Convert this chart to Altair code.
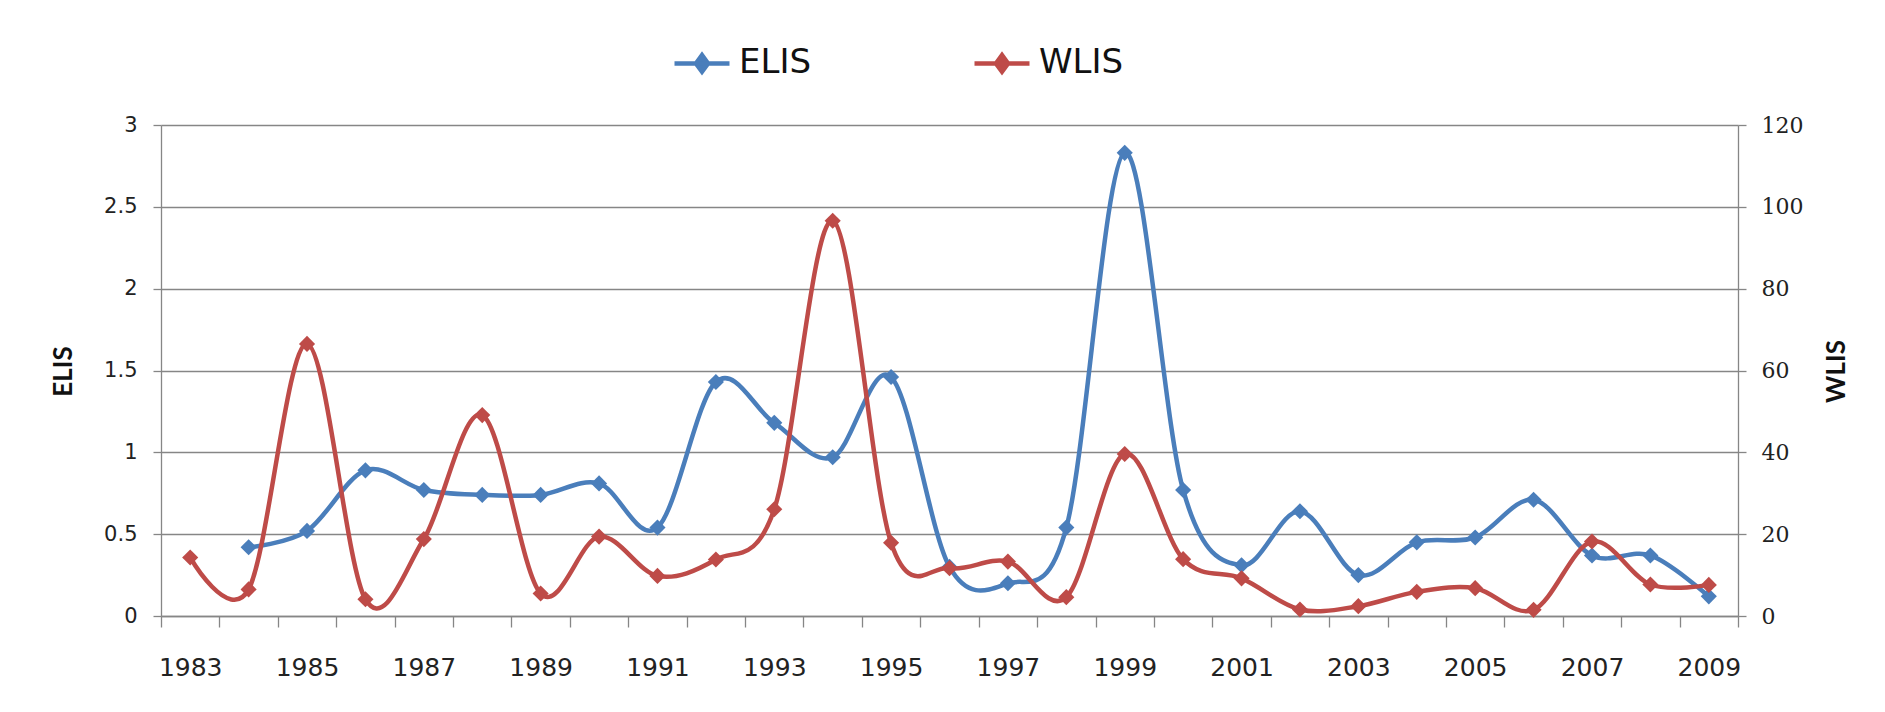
import altair as alt
import pandas as pd

years = list(range(1983, 2010))
elis = [None, 0.42, 0.52, 0.89, 0.77, 0.74, 0.74, 0.81, 0.54, 1.43, 1.18, 0.97, 1.46,
        0.30, 0.20, 0.54, 2.83, 0.77, 0.31, 0.64, 0.25, 0.45, 0.48, 0.71, 0.37, 0.37, 0.12]
wlis = [14.3, 6.5, 66.5, 4.1, 18.8, 49.1, 5.5, 19.4, 9.8, 13.8, 26.1, 96.6, 17.9,
        11.7, 13.3, 4.6, 39.6, 13.9, 9.2, 1.6, 2.4, 5.9, 6.8, 1.5, 18.2, 7.7, 7.6]
series_names = ["ELIS", "WLIS"]
series_colors = ["#4A7EBB", "#BE4B48"]

df_e = pd.DataFrame({"year": years, "value": elis, "series": "ELIS"}).dropna()
df_w = pd.DataFrame({"year": years, "value": wlis, "series": "WLIS"})

GRAY = "#868686"
FONT = "DejaVu Sans"

x_enc = alt.X(
    "year:O",
    scale=alt.Scale(type="band", paddingInner=0, paddingOuter=0),
    axis=alt.Axis(
        title=None, tickBand="extent", labelAngle=0, labelOverlap=False,
        labelExpr="datum.value % 2 == 1 ? datum.label : ''",
        labelFont=FONT, labelFontSize=25, labelColor="#222222",
        tickSize=11, tickColor=GRAY, tickWidth=1.3,
        domainColor=GRAY, domainWidth=1.3, grid=False, labelPadding=28,
    ),
)

color_enc = alt.Color(
    "series:N",
    scale=alt.Scale(domain=series_names, range=series_colors),
    legend=alt.Legend(
        title=None, orient="none", direction="horizontal", columns=2,
        legendX=511, legendY=-92, padding=0,
        symbolType="M-1,0L1,0M0,-0.3L0.22,0L0,0.3L-0.22,0Z",
        symbolSize=3025, symbolStrokeWidth=4.5,
        labelFont=FONT, labelFontSize=34, labelColor="#111111", labelOffset=7,
        columnPadding=153,
    ),
)

y_left = alt.Y(
    "value:Q",
    scale=alt.Scale(domain=[0, 3], nice=False, zero=True),
    axis=alt.Axis(
        orient="left", title="ELIS", values=[0, 0.5, 1, 1.5, 2, 2.5, 3], format=".1~f",
        labelFont=FONT, labelFontSize=21, labelColor="#222222", labelPadding=16,
        tickSize=8, tickColor=GRAY, tickWidth=1.3, domainColor=GRAY, domainWidth=1.3,
        grid=True, gridColor=GRAY, gridWidth=1.3,
        titleFont="Lato", titleFontWeight="bold", titleFontSize=26, titleColor="#111111",
        titleAngle=270, titleX=-98, titleY=246, titleAlign="center", titleBaseline="middle",
    ),
)

y_right = alt.Y(
    "value:Q",
    scale=alt.Scale(domain=[0, 120], nice=False, zero=True),
    axis=alt.Axis(
        orient="right", title="WLIS", values=[0, 20, 40, 60, 80, 100, 120], format="d",
        labelFont="DejaVu Serif", labelFontSize=22, labelColor="#222222", labelPadding=15,
        tickSize=8, tickColor=GRAY, tickWidth=1.3, domainColor=GRAY, domainWidth=1.3,
        grid=False,
        titleFont="Lato", titleFontWeight="bold", titleFontSize=26, titleColor="#111111",
        titleAngle=270, titleX=98, titleY=246, titleAlign="center", titleBaseline="middle",
    ),
)

line_e = alt.Chart(df_e).mark_line(strokeWidth=4.5, interpolate="cardinal").encode(
    x=x_enc, y=y_left, color=color_enc)
pt_e = alt.Chart(df_e).mark_point(shape="diamond", size=260, filled=True, opacity=1).encode(
    x=x_enc, y=y_left, color=color_enc)
line_w = alt.Chart(df_w).mark_line(strokeWidth=4.5, interpolate="cardinal").encode(
    x=x_enc, y=y_right, color=color_enc)
pt_w = alt.Chart(df_w).mark_point(shape="diamond", size=260, filled=True, opacity=1).encode(
    x=x_enc, y=y_right, color=color_enc)

chart = alt.layer(
    alt.layer(line_e, pt_e),
    alt.layer(line_w, pt_w),
).resolve_scale(y="independent").properties(
    width=1577, height=491,
    padding={"left": 153, "top": 117, "right": 139, "bottom": 86},
    autosize=alt.AutoSizeParams(type="none"),
    background="white",
).configure_view(stroke=None)

chart.save("out.html", embed_options={"renderer": "svg", "actions": False})
